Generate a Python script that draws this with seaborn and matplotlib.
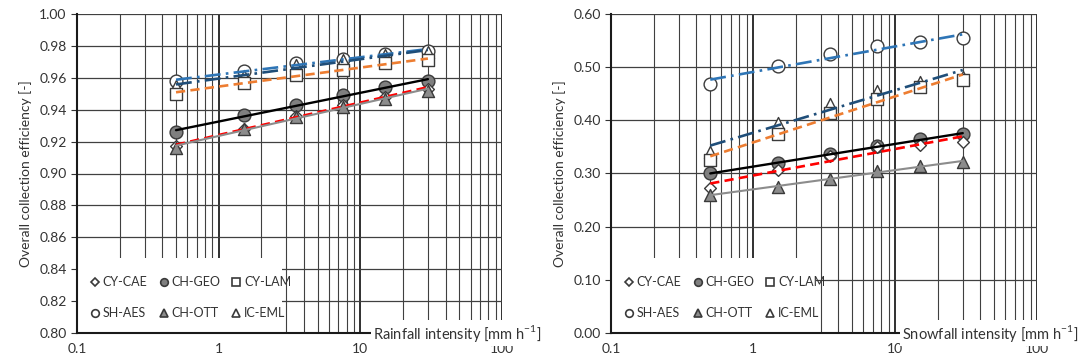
import numpy as np
import pandas as pd
import matplotlib
matplotlib.use("Agg")
import matplotlib.pyplot as plt
from matplotlib.lines import Line2D
from matplotlib.patches import Rectangle
from matplotlib.ticker import LogLocator, FixedLocator, NullFormatter, FuncFormatter
import seaborn as sns

# ---------------- data ----------------
intensity = [0.5, 1.5, 3.5, 7.5, 15, 30]
stations = ["CY-CAE", "SH-AES", "CH-GEO", "CH-OTT", "CY-LAM", "IC-EML"]

cy_cae_rain = [0.917, 0.928, 0.936, 0.943, 0.948, 0.953]
ch_geo_rain = [0.926, 0.9365, 0.943, 0.949, 0.954, 0.958]
cy_lam_rain = [0.950, 0.957, 0.962, 0.965, 0.969, 0.971]
sh_aes_rain = [0.958, 0.964, 0.969, 0.972, 0.975, 0.977]
ch_ott_rain = [0.916, 0.928, 0.9355, 0.942, 0.947, 0.952]
ic_eml_rain = [0.955, 0.961, 0.968, 0.971, 0.974, 0.976]

cy_cae_snow = [0.272, 0.307, 0.332, 0.350, 0.353, 0.360]
ch_geo_snow = [0.300, 0.319, 0.337, 0.352, 0.364, 0.374]
cy_lam_snow = [0.325, 0.374, 0.414, 0.441, 0.462, 0.476]
sh_aes_snow = [0.469, 0.502, 0.524, 0.539, 0.547, 0.554]
ch_ott_snow = [0.260, 0.274, 0.290, 0.304, 0.315, 0.321]
ic_eml_snow = [0.341, 0.395, 0.430, 0.455, 0.472, 0.482]

rain = {"CY-CAE": cy_cae_rain, "CH-GEO": ch_geo_rain, "CY-LAM": cy_lam_rain,
        "SH-AES": sh_aes_rain, "CH-OTT": ch_ott_rain, "IC-EML": ic_eml_rain}
snow = {"CY-CAE": cy_cae_snow, "CH-GEO": ch_geo_snow, "CY-LAM": cy_lam_snow,
        "SH-AES": sh_aes_snow, "CH-OTT": ch_ott_snow, "IC-EML": ic_eml_snow}

x_ticks = [0.1, 1, 10, 100]
x_tick_labels = ["0.1", "1", "10", "100"]
rain_yticks = [0.80, 0.82, 0.84, 0.86, 0.88, 0.90, 0.92, 0.94, 0.96, 0.98, 1.00]
snow_yticks = [0.00, 0.10, 0.20, 0.30, 0.40, 0.50, 0.60]

# ---------------- styles ----------------
markers = {"CY-CAE": "D", "CH-GEO": "o", "CY-LAM": "s",
           "SH-AES": "o", "CH-OTT": "^", "IC-EML": "^"}
sizes = {"CY-CAE": 36, "CH-GEO": 85, "CY-LAM": 70,
         "SH-AES": 85, "CH-OTT": 75, "IC-EML": 75}
faces = {"CY-CAE": "white", "CH-GEO": "#7f7f7f", "CY-LAM": "white",
         "SH-AES": "white", "CH-OTT": "#8c8c8c", "IC-EML": "white"}
line_style = {
    "SH-AES": dict(color="#2E75B6", lw=1.9, dashes=(6, 2, 1, 2)),
    "IC-EML": dict(color="#1F4E79", lw=1.9, dashes=(6, 2, 1, 2)),
    "CY-LAM": dict(color="#ED7D31", lw=1.9, dashes=(3.5, 2)),
    "CH-GEO": dict(color="black", lw=1.7, ls="-"),
    "CY-CAE": dict(color="#FF0000", lw=1.9, dashes=(3.5, 2)),
    "CH-OTT": dict(color="#8c8c8c", lw=1.5, ls="-"),
}
plot_order = ["SH-AES", "IC-EML", "CY-LAM", "CH-GEO", "CY-CAE", "CH-OTT"]

sns.set_style("white")
plt.rcParams["font.family"] = ["Lato", "DejaVu Sans"]
plt.rcParams["mathtext.fontset"] = "custom"
plt.rcParams["mathtext.rm"] = "Lato"

fig = plt.figure(figsize=(10.82, 3.62), dpi=100)
ax1 = fig.add_axes([77 / 1082, 29 / 362, 425 / 1082, 319 / 362])
ax2 = fig.add_axes([611 / 1082, 29 / 362, 426 / 1082, 319 / 362])

txt_col = "#333333"


def draw(ax, data, ylim, yticks, xlabel, label_x):
    df = pd.DataFrame([(s, xi, yi) for s in plot_order for xi, yi in zip(intensity, data[s])],
                      columns=["station", "x", "y"])
    ax.set_xscale("log")
    for s in plot_order:
        sub = df[df.station == s]
        sns.scatterplot(data=sub, x="x", y="y", ax=ax, marker=markers[s], s=sizes[s],
                        color=faces[s], edgecolor="#3a3a3a", linewidth=1.0,
                        zorder=3, legend=False)
    for s in plot_order:
        sub = df[df.station == s]
        kw = dict(line_style[s])
        kw["zorder"] = 4
        sns.regplot(data=sub, x="x", y="y", ax=ax, logx=True, scatter=False, ci=None,
                    color=kw.pop("color"), line_kws=kw)
    ax.set_xlim(0.1, 100)
    ax.set_ylim(*ylim)
    ax.set_xlabel("")
    ax.set_ylabel("Overall collection efficiency [-]", fontsize=10, color=txt_col, labelpad=5)
    ax.set_axisbelow(True)
    ax.xaxis.set_major_locator(FixedLocator(x_ticks))
    ax.set_xticklabels(x_tick_labels)
    ax.xaxis.set_minor_locator(LogLocator(base=10, subs=np.arange(2, 10), numticks=20))
    ax.xaxis.set_minor_formatter(NullFormatter())
    ax.yaxis.set_major_locator(FixedLocator(yticks))
    ax.yaxis.set_major_formatter(FuncFormatter(lambda v, p: f"{v:.2f}"))
    ax.grid(True, which="major", axis="x", color="#202020", lw=1.3)
    ax.grid(True, which="minor", axis="x", color="#404040", lw=0.8)
    ax.grid(True, which="major", axis="y", color="#404040", lw=0.9)
    ax.tick_params(axis="y", which="major", direction="out", length=4, width=0.8,
                   color="#333333", labelsize=10, labelcolor=txt_col, left=True)
    ax.tick_params(axis="x", which="both", length=0, labelsize=10, labelcolor=txt_col, pad=7)
    for side in ["top", "right"]:
        ax.spines[side].set_visible(False)
    for side in ["left", "bottom"]:
        ax.spines[side].set_color("#1a1a1a")
        ax.spines[side].set_linewidth(1.5)
        ax.spines[side].set_zorder(5)
    # white legend area
    ax.add_patch(Rectangle((0, 0), 0.482, 0.235, transform=ax.transAxes,
                           facecolor="white", edgecolor="none", zorder=1.5))
    handles = []
    for s in ["CY-CAE", "SH-AES", "CH-GEO", "CH-OTT", "CY-LAM", "IC-EML"]:
        handles.append(Line2D([], [], ls="none", marker=markers[s],
                              markersize=5.5 if markers[s] != "D" else 4.2,
                              markerfacecolor=faces[s], markeredgecolor="#3a3a3a",
                              markeredgewidth=1.2))
    leg = ax.legend(handles, ["CY-CAE", "SH-AES", "CH-GEO", "CH-OTT", "CY-LAM", "IC-EML"],
                    ncol=3, loc="center left", bbox_to_anchor=(0.034, 0.111), frameon=False,
                    fontsize=9, handlelength=0.6, handletextpad=0.3, columnspacing=1.0,
                    labelspacing=1.5, borderaxespad=0, borderpad=0)
    for t in leg.get_texts():
        t.set_color(txt_col)
    leg.set_zorder(6)
    ax.text(label_x, 0.0, xlabel, transform=ax.transAxes, ha="left", va="center",
            fontsize=10.5, color=txt_col, zorder=7,
            bbox=dict(facecolor="white", edgecolor="none", pad=1.5))


draw(ax1, rain, (0.80, 1.00), rain_yticks,
     r"Rainfall intensity [mm h$^{\mathregular{-1}}$]", 0.697)
draw(ax2, snow, (0.00, 0.60), snow_yticks,
     r"Snowfall intensity [mm h$^{\mathregular{-1}}$]", 0.683)

fig.savefig("out.png", dpi=100)
